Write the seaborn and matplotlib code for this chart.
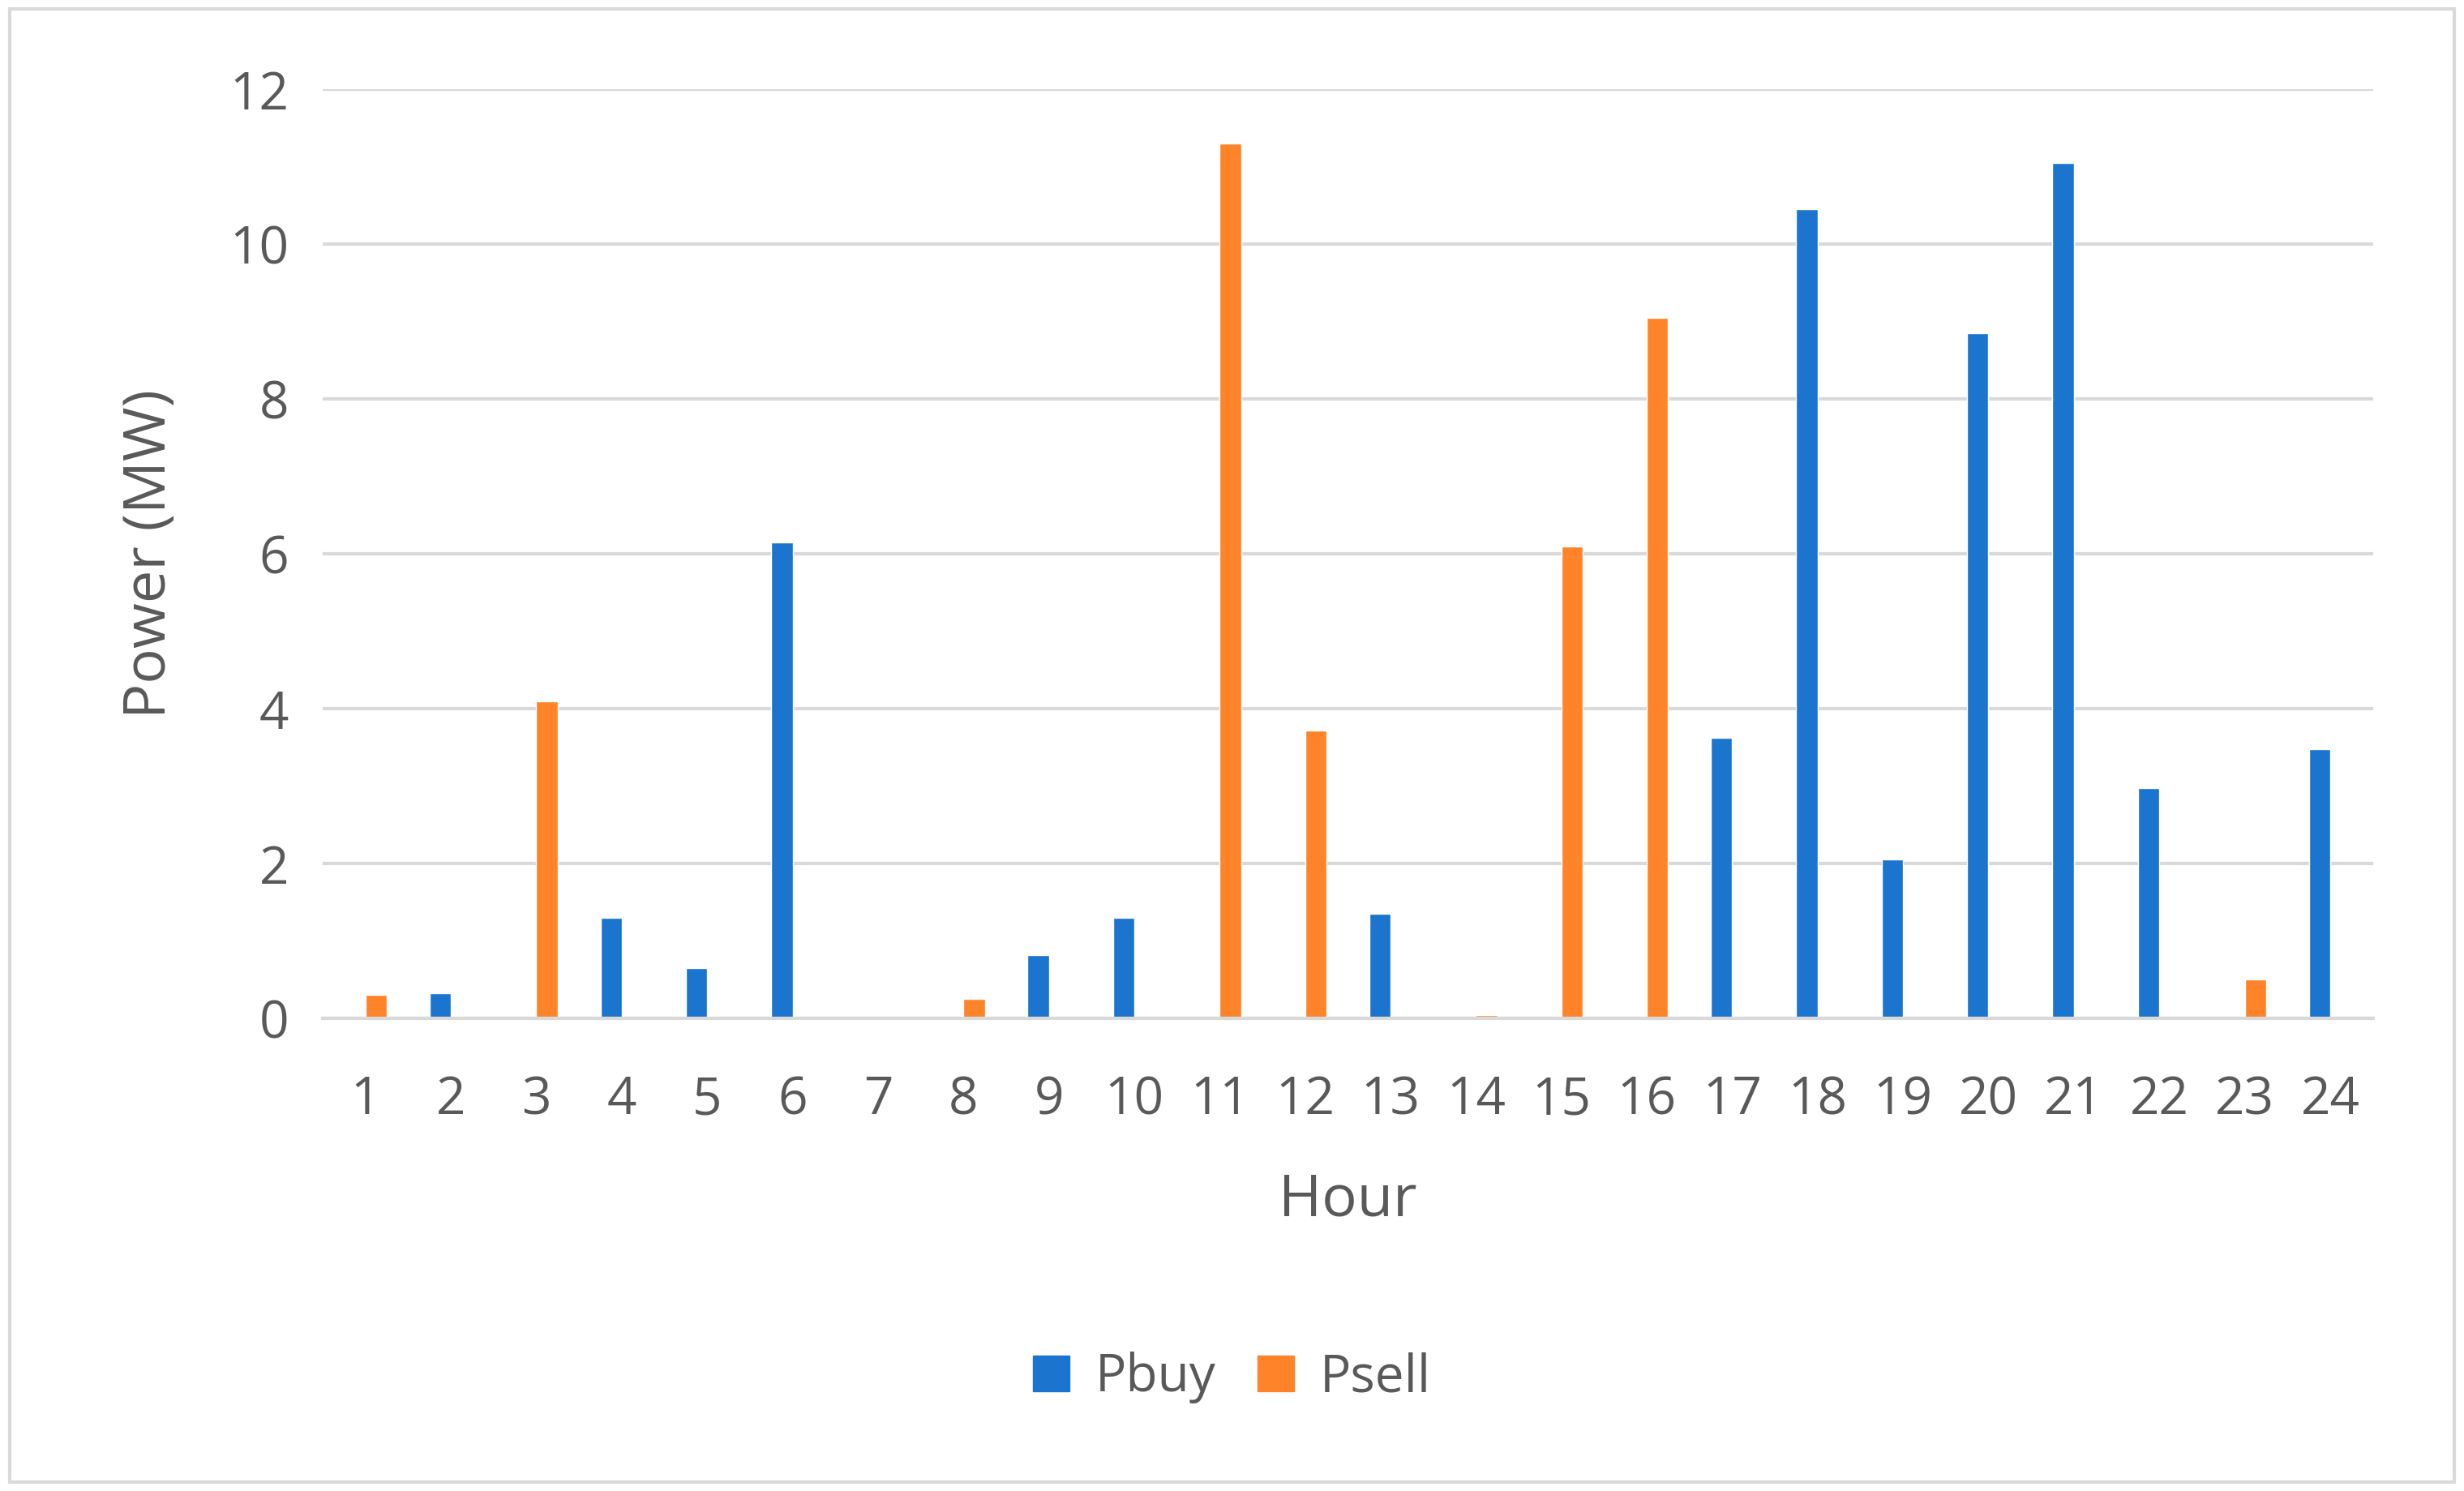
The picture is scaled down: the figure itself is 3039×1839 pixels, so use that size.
import numpy as np
import pandas as pd
import matplotlib.pyplot as plt
import matplotlib.patches as mpatches
import seaborn as sns
sns.set_style('white')
plt.rcParams['font.family'] = ['Open Sans', 'DejaVu Sans']

# values (MW)
hours = list(range(1, 25))
pbuy = [0, 0.33, 0, 1.3, 0.65, 6.15, 0, 0, 0.82, 1.3, 0, 0, 1.35, 0, 0, 0, 3.62, 10.45, 2.05, 8.85, 11.05, 2.98, 0, 3.48]
psell = [0.3, 0, 4.1, 0, 0, 0, 0, 0.25, 0, 0, 11.3, 3.72, 0, 0.04, 6.1, 9.05, 0, 0, 0, 0, 0, 0, 0.5, 0]

df = pd.DataFrame({'Hour': hours * 2,
                   'Power': pbuy + psell,
                   'Series': ['Pbuy'] * 24 + ['Psell'] * 24})

grey = '#595959'
colors = {'Pbuy': '#1B75CF', 'Psell': '#FF8329'}

fig = plt.figure(figsize=(30.39, 18.39), dpi=100)
ax = fig.add_axes([0.131, 0.317, 0.832, 0.623])
sns.barplot(data=df, x='Hour', y='Power', hue='Series', palette=colors,
            width=0.5, ax=ax, legend=False, saturation=1)

ax.set_ylim(0, 12)
ax.set_yticks(np.arange(0, 13, 2))
ax.yaxis.grid(True, color='#D9D9D9', linewidth=3)
ax.set_axisbelow(True)
for s in ['top', 'right', 'left']:
    ax.spines[s].set_visible(False)
ax.spines['bottom'].set_color('#D9D9D9')
ax.spines['bottom'].set_linewidth(3)
ax.tick_params(axis='both', length=0, labelsize=46, colors=grey)
ax.tick_params(axis='x', pad=50)
ax.tick_params(axis='y', pad=30)
ax.set_xlabel('Hour', fontsize=52, color=grey, labelpad=40)
ax.set_ylabel('Power (MW)', fontsize=52, color=grey, labelpad=45)

handles = [mpatches.Patch(color=colors[k], label=k) for k in ['Pbuy', 'Psell']]
fig.legend(handles=handles, loc='center', bbox_to_anchor=(0.5, 0.076), ncol=2,
           frameon=False, fontsize=46, labelcolor=grey, handlelength=0.7,
           handleheight=0.7, columnspacing=0.8, handletextpad=0.5)

# light frame around the figure
fig.patches.append(mpatches.Rectangle((0.004, 0.006), 0.992, 0.988, transform=fig.transFigure,
                                      fill=False, edgecolor='#D9D9D9', linewidth=3))

plt.savefig('out.png', dpi=100)
plt.close()
